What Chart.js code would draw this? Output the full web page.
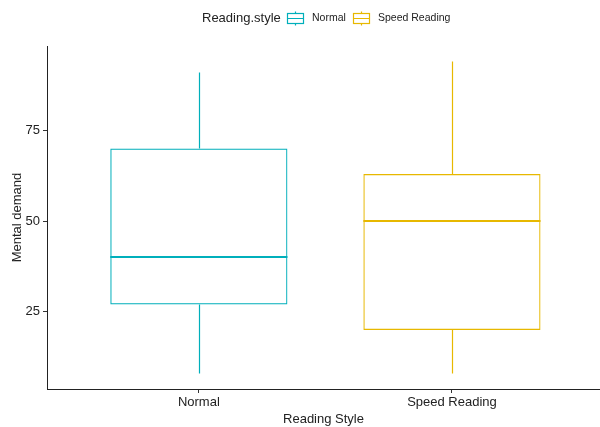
<!DOCTYPE html>
<html>
<head>
<meta charset="utf-8">
<script src="https://cdn.jsdelivr.net/npm/chart.js@4"></script>
<style>
  html, body { margin: 0; padding: 0; background: #fff; }
  #wrap { width: 600px; height: 427px; position: relative; }
</style>
</head>
<body>
<div id="wrap"><canvas id="boxChart"></canvas></div>
<script>
// Mental demand by reading style
const styles = ['Normal', 'Speed Reading'];
const colors = ['#00AFBB', '#E7B800'];
const whiskerLow = [8, 8];
const q1 = [27, 20];
const median = [40, 50];
const q3 = [70, 63];
const whiskerHigh = [91, 94];
const yTicks = [25, 50, 75];

const FONT = '"Liberation Sans", Arial, sans-serif';

// whiskers + median on top of the floating bars
const boxExtras = {
  id: 'boxExtras',
  afterDatasetsDraw(chart) {
    const ctx = chart.ctx;
    const y = chart.scales.y;
    const meta = chart.getDatasetMeta(0);
    meta.data.forEach((bar, i) => {
      const cx = Math.round(bar.x) + 0.5;
      const half = bar.width / 2;
      ctx.save();
      ctx.strokeStyle = colors[i];
      ctx.lineWidth = 1.2;
      ctx.beginPath();
      ctx.moveTo(cx, y.getPixelForValue(whiskerHigh[i]));
      ctx.lineTo(cx, y.getPixelForValue(q3[i]));
      ctx.moveTo(cx, y.getPixelForValue(q1[i]));
      ctx.lineTo(cx, y.getPixelForValue(whiskerLow[i]));
      ctx.stroke();
      ctx.lineWidth = 2;
      ctx.beginPath();
      const my = Math.round(y.getPixelForValue(median[i]));
      ctx.moveTo(bar.x - half, my);
      ctx.lineTo(bar.x + half, my);
      ctx.stroke();
      ctx.restore();
    });
  }
};

// legend across the top: title then boxplot keys
const topLegend = {
  id: 'topLegend',
  afterDraw(chart) {
    const ctx = chart.ctx;
    ctx.save();
    ctx.textBaseline = 'middle';
    ctx.fillStyle = '#222';
    ctx.font = '13px ' + FONT;
    ctx.fillText('Reading.style', 202, 18.5);
    const keyX = [287, 353];
    const textX = [312, 378];
    styles.forEach((s, i) => {
      const x0 = keyX[i], w = 16;
      const mid = x0 + w / 2 + 0.5;
      ctx.strokeStyle = colors[i];
      ctx.lineWidth = 1.2;
      ctx.strokeRect(x0 + 0.5, 13.5, w, 10);
      ctx.beginPath();
      ctx.moveTo(mid, 11.5);
      ctx.lineTo(mid, 13.5);
      ctx.moveTo(mid, 23.5);
      ctx.lineTo(mid, 25.5);
      ctx.moveTo(x0 + 0.5, 18.5);
      ctx.lineTo(x0 + w + 0.5, 18.5);
      ctx.stroke();
      ctx.fillStyle = '#222';
      ctx.font = '10.5px ' + FONT;
      ctx.fillText(s, textX[i], 18.5);
    });
    ctx.restore();
  }
};

const ctx = document.getElementById('boxChart').getContext('2d');
new Chart(ctx, {
  type: 'bar',
  data: {
    datasets: [{
      data: styles.map((s, i) => ({ x: i + 1, y: [q1[i], q3[i]] })),
      backgroundColor: 'rgba(0,0,0,0)',
      borderColor: colors,
      borderWidth: 1.2,
      borderSkipped: false,
      barPercentage: 0.7,
      categoryPercentage: 1
    }]
  },
  options: {
    responsive: true,
    maintainAspectRatio: false,
    animation: false,
    layout: { padding: { top: 46, right: 0, left: 0, bottom: 0 } },
    plugins: { legend: { display: false }, tooltip: { enabled: false } },
    scales: {
      x: {
        type: 'linear',
        min: 0.4,
        max: 2.585,
        offset: false,
        afterBuildTicks: s => { s.ticks = styles.map((_, i) => ({ value: i + 1 })); },
        afterFit: s => { s.height = 38; },
        grid: { offset: false, drawOnChartArea: false, drawTicks: true, tickLength: 4, tickColor: '#333' },
        border: { color: '#222', width: 1 },
        ticks: {
          callback: v => styles[v - 1],
          color: '#222',
          font: { family: FONT, size: 13 },
          padding: 2,
          maxRotation: 0
        },
        title: {
          display: true,
          text: 'Reading Style',
          color: '#222',
          font: { family: FONT, size: 13 },
          padding: { top: 0, bottom: 0 }
        }
      },
      y: {
        min: 3.7,
        max: 98.3,
        afterBuildTicks: s => { s.ticks = yTicks.map(v => ({ value: v })); },
        afterFit: s => { s.width = 47; },
        grid: { drawOnChartArea: false, drawTicks: true, tickLength: 4, tickColor: '#333' },
        border: { color: '#222', width: 1 },
        ticks: {
          color: '#222',
          font: { family: FONT, size: 13 },
          padding: 3
        },
        title: {
          display: true,
          text: 'Mental demand',
          color: '#222',
          font: { family: FONT, size: 13 },
          padding: { top: 10, bottom: 0 }
        }
      }
    }
  },
  plugins: [boxExtras, topLegend]
});
</script>
</body>
</html>
